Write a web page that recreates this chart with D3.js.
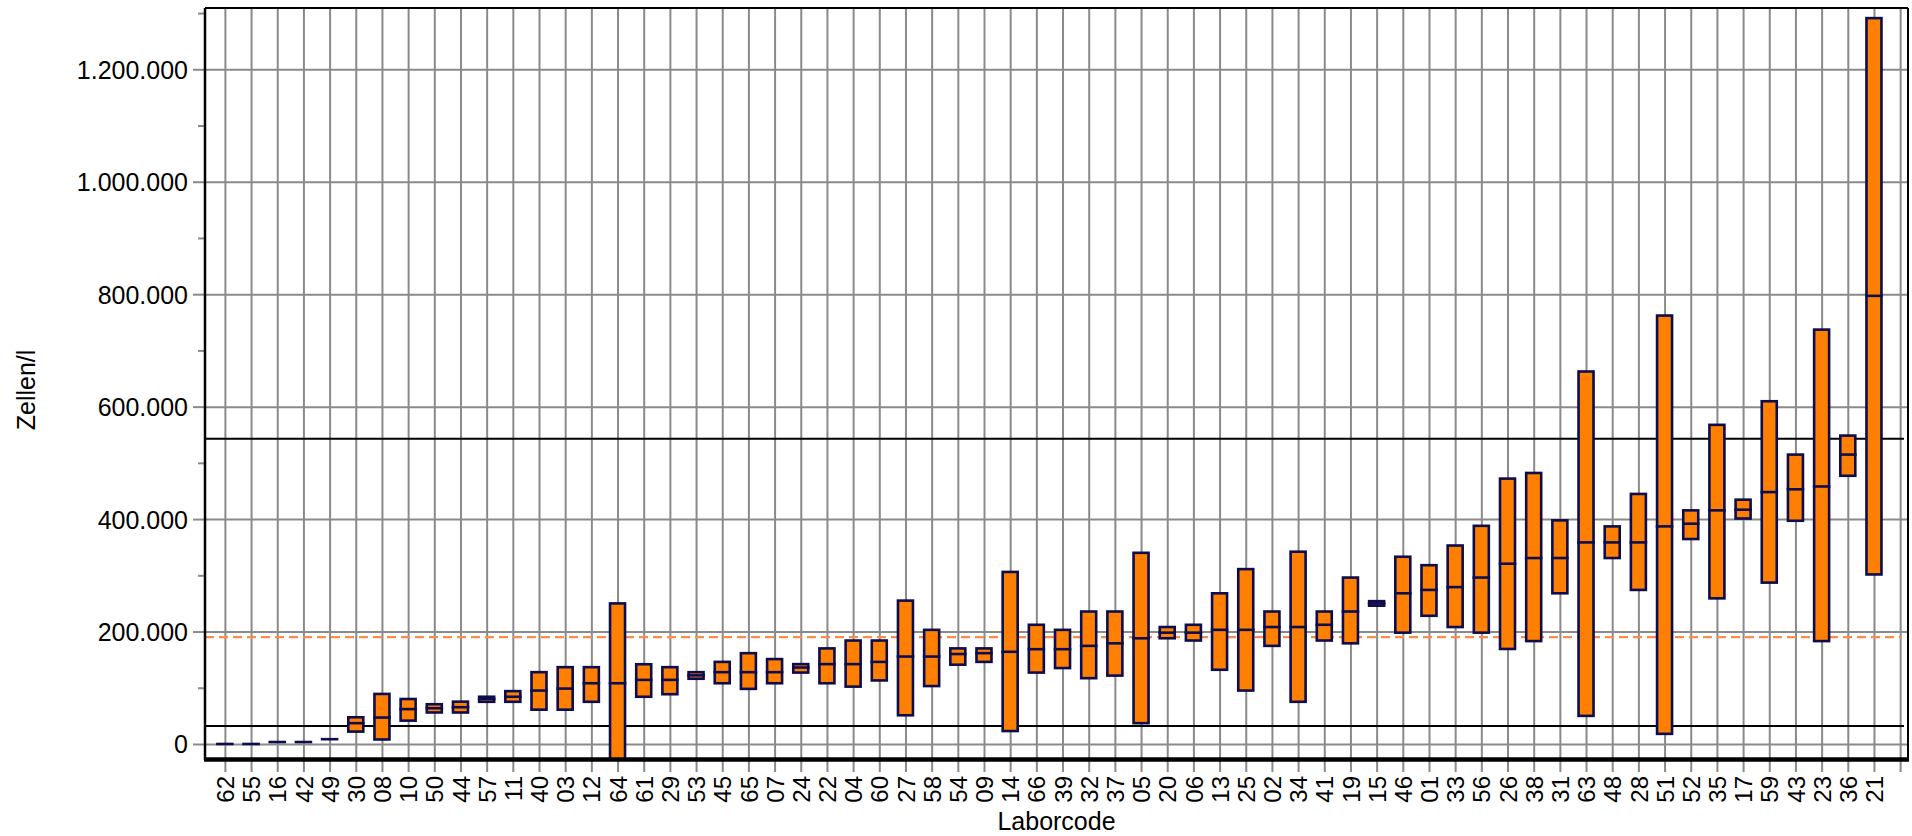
<!DOCTYPE html>
<html>
<head>
<meta charset="utf-8">
<script src="https://cdn.jsdelivr.net/npm/d3@7"></script>
<style>
  html, body { margin: 0; padding: 0; background: #fff; }
  svg { display: block; font-family: "Liberation Sans", Arial, sans-serif; }
</style>
</head>
<body>
<svg id="chart" width="1912" height="836"></svg>
<script>
// ---------- data ----------
const categories = ["62","55","16","42","49","30","08","10","50","44","57","11","40","03","12","64","61","29","53","45","65","07","24","22","04","60","27","58","54","09","14","66","39","32","37","05","20","06","13","25","02","34","41","19","15","46","01","33","56","26","38","31","63","48","28","51","52","35","17","59","43","23","36","21"];

const lowValues = [0,0,3500,3500,8500,22000,8000,41500,56000,56000,75000,75000,61000,61000,75000,-40000,84000,88500,116000,108000,98000,108000,127000,108000,102000,113000,51000,103000,141000,146000,23000,127000,135000,117000,121600,37000,188000,184000,132000,95000,174500,75000,184000,179000,246000,198000,228000,208000,198000,169000,183000,268000,50000,330700,274000,18000,364500,259000,401000,287000,397000,183000,477000,301500];

const medianValues = [0,0,3500,3500,8500,37000,47000,62000,63600,65400,80000,84000,95000,98500,108000,108000,114000,114000,122000,127700,127700,127700,136000,142000,142000,146000,155500,155500,160000,161500,164000,168600,168600,174500,179000,188000,198000,198000,203000,203000,208000,208000,212000,235600,250000,268000,274000,279000,296000,320600,330700,330700,358500,358500,358500,387000,391800,415500,416700,448000,453000,458000,514700,797000];

const highValues = [0,0,3500,3500,8500,47500,89000,80000,70700,75300,84000,94000,127700,136600,136600,250000,141800,136600,127700,146000,161500,151000,142000,170000,184000,184000,255000,203000,170000,170000,306000,212000,203000,235600,235600,340000,208000,212000,268000,311000,235600,342000,235600,296000,254000,333000,318000,353000,388000,472000,482000,397700,662500,387000,444700,762000,415500,567600,434500,609600,514700,737000,548500,1291000];

const yMajorTicks = [0,200000,400000,600000,800000,1000000,1200000];
const yMinorTicks = [100000,300000,500000,700000,900000,1100000,1300000];
const upperLimit = 543000;
const lowerLimit = 32000;
const assignedValue = 190000;
const xTitle = "Laborcode";
const yTitle = "Zellen/l";

// ---------- layout ----------
const L = 205, R = 1908, T = 8, B = 760;
const svg = d3.select("#chart");
const locale = d3.formatLocale({decimal: ",", thousands: ".", grouping: [3], currency: ["", " €"]});
const fmt = locale.format(",d");

const slots = categories.length + 1;
const x = d3.scaleLinear().domain([0.24, slots + 0.3]).range([L, R]);
const y = d3.scaleLinear().domain([-28500, 1309000]).range([B, T]);

const gridColor = "#8a8a8a";
const navy = "#0c0c4e";
const orange = "#ff8000";

svg.append("rect").attr("width", 1912).attr("height", 836).attr("fill", "#fff");

// vertical grid lines (extend below plot as ticks) + labels
const xAxisG = svg.append("g")
  .attr("transform", `translate(0,${B + 12})`)
  .call(d3.axisBottom(x)
    .tickValues(d3.range(1, slots + 1))
    .tickSize(-(B + 12 - T))
    .tickFormat(i => categories[i - 1] || ""));
xAxisG.select(".domain").remove();
xAxisG.selectAll(".tick line").attr("stroke", gridColor).attr("stroke-width", 2);
xAxisG.selectAll(".tick text")
  .attr("transform", "rotate(-90)")
  .attr("text-anchor", "end")
  .attr("x", -4)
  .attr("y", 0)
  .attr("dy", "0.36em")
  .attr("fill", "#000")
  .style("font-size", "24px")
  .style("font-family", "'Liberation Sans', Arial, sans-serif");

// horizontal grid lines
const gridY = svg.append("g")
  .attr("transform", `translate(${L},0)`)
  .call(d3.axisLeft(y).tickValues(yMajorTicks).tickSize(-(R - L)).tickFormat(""));
gridY.select(".domain").remove();
gridY.selectAll(".tick line").attr("stroke", gridColor).attr("stroke-width", 2);

// y axis major ticks + labels
const yAxisG = svg.append("g")
  .attr("transform", `translate(${L},0)`)
  .call(d3.axisLeft(y).tickValues(yMajorTicks).tickSize(12).tickPadding(5).tickFormat(fmt));
yAxisG.select(".domain").remove();
yAxisG.selectAll(".tick line").attr("stroke", gridColor).attr("stroke-width", 2);
yAxisG.selectAll(".tick text")
  .attr("fill", "#000")
  .attr("dy", "0.36em")
  .style("font-size", "25px")
  .style("font-family", "'Liberation Sans', Arial, sans-serif");

// y minor ticks
const yMinorG = svg.append("g")
  .attr("transform", `translate(${L},0)`)
  .call(d3.axisLeft(y).tickValues(yMinorTicks).tickSize(7).tickFormat(""));
yMinorG.select(".domain").remove();
yMinorG.selectAll(".tick line").attr("stroke", gridColor).attr("stroke-width", 2);

// reference lines
svg.append("line")
  .attr("x1", L).attr("x2", R - 4)
  .attr("y1", y(upperLimit)).attr("y2", y(upperLimit))
  .attr("stroke", "#000").attr("stroke-width", 2);
svg.append("line")
  .attr("x1", L).attr("x2", R - 4)
  .attr("y1", y(lowerLimit)).attr("y2", y(lowerLimit))
  .attr("stroke", "#000").attr("stroke-width", 2);
svg.append("line")
  .attr("x1", L).attr("x2", R - 6)
  .attr("y1", y(assignedValue)).attr("y2", y(assignedValue))
  .attr("stroke", "#ff8a4c").attr("stroke-width", 2.2)
  .attr("stroke-dasharray", "9,5");

// boxes
svg.append("defs").append("clipPath").attr("id", "plotclip")
  .append("rect").attr("x", L).attr("y", T).attr("width", R - L).attr("height", B - T);

const data = categories.map((c, i) => ({
  code: c, idx: i + 1, lo: lowValues[i], med: medianValues[i], hi: highValues[i]
}));
const bw = 15;
const boxes = svg.append("g").attr("clip-path", "url(#plotclip)");
boxes.selectAll("rect.box")
  .data(data.filter(d => d.hi > d.lo))
  .join("rect")
  .attr("class", "box")
  .attr("x", d => x(d.idx) - bw / 2)
  .attr("width", bw)
  .attr("y", d => y(d.hi))
  .attr("height", d => y(d.lo) - y(d.hi))
  .attr("fill", orange)
  .attr("stroke", navy)
  .attr("stroke-width", 2.6);
boxes.selectAll("line.med")
  .data(data)
  .join("line")
  .attr("class", "med")
  .attr("x1", d => x(d.idx) - bw / 2)
  .attr("x2", d => x(d.idx) + bw / 2)
  .attr("y1", d => y(d.med))
  .attr("y2", d => y(d.med))
  .attr("stroke", navy)
  .attr("stroke-width", 2.6)
  .attr("stroke-linecap", "square");

// frame
svg.append("line").attr("x1", L).attr("x2", L).attr("y1", T).attr("y2", B)
  .attr("stroke", "#000").attr("stroke-width", 2.5);
svg.append("line").attr("x1", L).attr("x2", R).attr("y1", T).attr("y2", T)
  .attr("stroke", "#000").attr("stroke-width", 2);
svg.append("line").attr("x1", R).attr("x2", R).attr("y1", T).attr("y2", B)
  .attr("stroke", "#000").attr("stroke-width", 2);
svg.append("line").attr("x1", L - 1).attr("x2", R + 1).attr("y1", B - 0.5).attr("y2", B - 0.5)
  .attr("stroke", "#000").attr("stroke-width", 4.5);

// axis titles
svg.append("text")
  .attr("x", (L + R) / 2).attr("y", 830)
  .attr("text-anchor", "middle")
  .style("font-size", "25px")
  .text(xTitle);
svg.append("text")
  .attr("transform", `translate(26,390) rotate(-90)`)
  .attr("text-anchor", "middle")
  .attr("dy", "0.36em")
  .style("font-size", "25px")
  .text(yTitle);
</script>
</body>
</html>
